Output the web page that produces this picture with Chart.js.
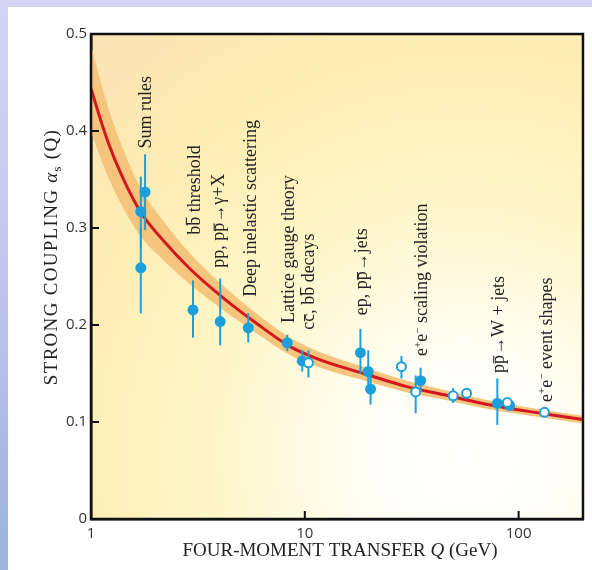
<!DOCTYPE html>
<html><head><meta charset="utf-8">
<script src="https://cdn.jsdelivr.net/npm/chart.js@4.4.1/dist/chart.umd.min.js"></script>
<style>
html,body{margin:0;padding:0;width:592px;height:570px;overflow:hidden}
body{background:linear-gradient(180deg,#d6d4f2 0%,#c4c6ee 45%,#9ab2df 100%);position:relative}
#panel{position:absolute;left:8px;top:7px;right:0;bottom:0;background:#fff}
#c{position:absolute;left:0;top:0}
</style></head><body>
<div id="panel"></div>
<canvas id="c" width="592" height="570"></canvas>
<script>
// ---- data ----
const xTicks = [1, 10, 100];
const yTicks = [0, 0.1, 0.2, 0.3, 0.4, 0.5];

const curveQ    = [1.0, 1.1, 1.2, 1.38, 1.7, 2.2, 2.9, 4.15, 6.0, 8.5, 11.8, 18.8, 30, 45, 74, 127, 200];
const curveMid  = [0.444, 0.414, 0.389, 0.356, 0.317, 0.286, 0.258, 0.228, 0.201, 0.178, 0.164, 0.150, 0.1365, 0.128, 0.1175, 0.109, 0.1025];
const curveLow  = [0.399, 0.374, 0.353, 0.325, 0.292, 0.266, 0.242, 0.2155, 0.191, 0.169, 0.156, 0.143, 0.1305, 0.123, 0.113, 0.105, 0.0985];
const curveHigh = [0.489, 0.454, 0.425, 0.387, 0.342, 0.306, 0.274, 0.2405, 0.211, 0.187, 0.172, 0.157, 0.1425, 0.133, 0.122, 0.113, 0.1065];

const fillQ  = [1.71, 1.71, 1.79, 3.0, 4.02, 5.44, 8.28, 9.73, 18.2, 19.8, 20.3, 34.8, 79.5, 90.8];
const fillA  = [0.317, 0.259, 0.337, 0.2155, 0.2035, 0.197, 0.1815, 0.163, 0.1715, 0.152, 0.134, 0.1426, 0.1193, 0.117];
const fillLo = [0.280, 0.212, 0.298, 0.187, 0.179, 0.182, 0.173, 0.152, 0.150, 0.135, 0.118, 0.131, 0.097, 0.114];
const fillHi = [0.353, 0.300, 0.376, 0.246, 0.248, 0.212, 0.190, 0.174, 0.196, 0.174, 0.152, 0.156, 0.145, 0.120];

const openQ  = [10.4, 28.3, 33.0, 49.4, 57.1, 88.5, 132];
const openA  = [0.161, 0.157, 0.131, 0.127, 0.1296, 0.120, 0.110];
const openLo = [0.146, 0.145, 0.109, 0.1196, 0.127, 0.118, 0.105];
const openHi = [0.174, 0.168, 0.148, 0.135, 0.132, 0.122, 0.1145];

// '~' = overline next char, '^' = superscript next char
const labelText = ["Sum rules", "b~b threshold", "pp, p~p\u2192\u03b3+X", "Deep inelastic scattering",
  "Lattice gauge theory", "c~c, b~b decays", "ep, p~p\u2192jets", "e^+e^\u2212 scaling violation",
  "p~p\u2192W + jets", "e^+e^\u2212 event shapes"];
const labelQ = [1.79, 3.04, 3.93, 5.55, 8.37, 10.4, 18.4, 35.1, 79.8, 134];
const labelA = [0.382, 0.293, 0.259, 0.229, 0.202, 0.195, 0.210, 0.168, 0.1505, 0.1206];

// ---- styling ----
const BLUE = '#1ba0db';
const SERIF = '"Liberation Serif", "Times New Roman", serif';
const TEXT = '#222';

function pts(xs, ys){ return xs.map((x,i)=>({x:x, y:ys[i]})); }

function parseRich(s){
  const segs=[];
  for(let i=0;i<s.length;i++){
    const c=s[i];
    if(c==='^'){ segs.push({t:s[++i], sup:true}); }
    else if(c==='~'){ segs.push({t:s[++i], over:true}); }
    else {
      const last = segs[segs.length-1];
      if(last && !last.sup && !last.over) last.t += c; else segs.push({t:c});
    }
  }
  return segs;
}
function drawRich(ctx, s, x, y, size){
  let cx = x;
  for(const sg of parseRich(s)){
    if(sg.sup){
      ctx.font = (size*0.62)+'px '+SERIF;
      ctx.fillText(sg.t, cx, y - size*0.36);
      cx += ctx.measureText(sg.t).width;
    } else {
      ctx.font = size+'px '+SERIF;
      ctx.fillText(sg.t, cx, y);
      const w = ctx.measureText(sg.t).width;
      if(sg.over){
        const tall = 'bdfhklt'.indexOf(sg.t) >= 0;
        ctx.fillRect(cx + w*0.08, y - size*(tall ? 0.80 : 0.58), w*0.84, Math.max(1, size*0.06));
      }
      cx += w;
    }
  }
}

const bgPlugin = {
  id:'bg',
  beforeDraw(chart){
    const {ctx, chartArea:a} = chart;
    ctx.save();
    const g = ctx.createRadialGradient(465, 455, 0, 465, 455, 575);
    g.addColorStop(0, '#ffffff');
    g.addColorStop(0.18, '#fffef5');
    g.addColorStop(0.45, '#fff6c8');
    g.addColorStop(0.72, '#feedb3');
    g.addColorStop(1, '#fbe1b6');
    ctx.fillStyle = g;
    ctx.fillRect(a.left, a.top, a.right-a.left, a.bottom-a.top);
    ctx.restore();
  }
};

const errPlugin = {
  id:'errbars',
  beforeDatasetDraw(chart, args){
    if(args.index !== 3) return;
    const {ctx} = chart, xs = chart.scales.x, ys = chart.scales.y;
    ctx.save();
    ctx.strokeStyle = BLUE; ctx.lineWidth = 2;
    const draw = (Q, lo, hi) => Q.forEach((q,i)=>{
      const px = xs.getPixelForValue(q);
      ctx.beginPath();
      ctx.moveTo(px, ys.getPixelForValue(lo[i]));
      ctx.lineTo(px, ys.getPixelForValue(hi[i]));
      ctx.stroke();
    });
    draw(fillQ, fillLo, fillHi);
    draw(openQ, openLo, openHi);
    ctx.restore();
  }
};

const decoPlugin = {
  id:'deco',
  afterDatasetsDraw(chart){
    const {ctx, chartArea:a} = chart, xs = chart.scales.x, ys = chart.scales.y;
    ctx.save();
    ctx.fillStyle = TEXT;
    ctx.textBaseline = 'alphabetic';
    ctx.textAlign = 'left';
    labelText.forEach((t,i)=>{
      const px = xs.getPixelForValue(labelQ[i]) + 6;
      const py = ys.getPixelForValue(labelA[i]);
      ctx.save();
      ctx.translate(px, py);
      ctx.rotate(-Math.PI/2);
      drawRich(ctx, t, 0, 0, 18);
      ctx.restore();
    });
    // frame
    ctx.strokeStyle = '#111';
    ctx.lineWidth = 2.5;
    ctx.strokeRect(a.left, a.top, a.right-a.left, a.bottom-a.top);
    // inward ticks
    ctx.lineWidth = 2;
    yTicks.forEach(v=>{
      const py = ys.getPixelForValue(v);
      ctx.beginPath(); ctx.moveTo(a.left, py); ctx.lineTo(a.left+8, py); ctx.stroke();
    });
    xTicks.forEach(v=>{
      const px = xs.getPixelForValue(v);
      ctx.beginPath(); ctx.moveTo(px, a.bottom); ctx.lineTo(px, a.bottom-8); ctx.stroke();
    });
    // axis titles
    ctx.fillStyle = TEXT;
    const fs = 19;
    const p1 = 'FOUR-MOMENT TRANSFER ', pQ = 'Q', p2 = ' (GeV)';
    ctx.font = fs+'px '+SERIF; const w1 = ctx.measureText(p1).width, w3 = ctx.measureText(p2).width;
    ctx.font = 'italic '+fs+'px '+SERIF; const w2 = ctx.measureText(pQ).width;
    let x0 = 340 - (w1+w2+w3)/2, yb = 556;
    ctx.font = fs+'px '+SERIF; ctx.fillText(p1, x0, yb);
    ctx.font = 'italic '+fs+'px '+SERIF; ctx.fillText(pQ, x0+w1, yb);
    ctx.font = fs+'px '+SERIF; ctx.fillText(p2, x0+w1+w2, yb);
    // y title
    ctx.save();
    ctx.translate(57, 257);
    ctx.rotate(-Math.PI/2);
    try { ctx.letterSpacing = '1.3px'; } catch(e) {}
    const q1 = 'STRONG COUPLING ', qa = '\u03b1', qs = 's', q2 = ' (Q)';
    ctx.font = fs+'px '+SERIF; const v1 = ctx.measureText(q1).width, v4 = ctx.measureText(q2).width;
    ctx.font = 'italic '+fs+'px '+SERIF; const v2 = ctx.measureText(qa).width;
    ctx.font = (fs*0.68)+'px '+SERIF; const v3 = ctx.measureText(qs).width;
    let s0 = -(v1+v2+v3+v4)/2;
    ctx.font = fs+'px '+SERIF; ctx.fillText(q1, s0, 0);
    ctx.font = 'italic '+fs+'px '+SERIF; ctx.fillText(qa, s0+v1, 0);
    ctx.font = (fs*0.68)+'px '+SERIF; ctx.fillText(qs, s0+v1+v2, 4);
    ctx.font = fs+'px '+SERIF; ctx.fillText(q2, s0+v1+v2+v3, 0);
    ctx.restore();
    ctx.restore();
  }
};

new Chart(document.getElementById('c'), {
  type: 'line',
  data: {
    datasets: [
      { label:'band low', data: pts(curveQ, curveLow), borderWidth:0, borderColor:'rgba(0,0,0,0)', pointRadius:0, fill:false, cubicInterpolationMode:'monotone', order:6 },
      { label:'band high', data: pts(curveQ, curveHigh), borderWidth:0, borderColor:'rgba(0,0,0,0)', pointRadius:0, fill:'-1', backgroundColor:'#f5c57e', cubicInterpolationMode:'monotone', order:5 },
      { label:'alpha_s', data: pts(curveQ, curveMid), borderColor:'#d5161e', borderWidth:3, pointRadius:0, fill:false, cubicInterpolationMode:'monotone', order:4 },
      { label:'filled', data: pts(fillQ, fillA), showLine:false, pointRadius:5.5, pointBackgroundColor:BLUE, pointBorderColor:BLUE, pointBorderWidth:0, order:2 },
      { label:'open', data: pts(openQ, openA), showLine:false, pointRadius:4.5, pointBackgroundColor:'#ffffff', pointBorderColor:BLUE, pointBorderWidth:2, order:1 }
    ]
  },
  options: {
    responsive:false, devicePixelRatio:1, animation:false, events:[],
    layout:{ padding:{ left:0, top:34, right:9, bottom:0 } },
    plugins:{ legend:{display:false}, tooltip:{enabled:false} },
    scales:{
      x:{
        type:'logarithmic', min:1, max:200,
        afterBuildTicks: s => { s.ticks = xTicks.map(v=>({value:v})); },
        afterFit: s => { s.height = 51; },
        ticks:{ callback: v => String(v), font:{family:'"Open Sans", sans-serif', size:15}, color:'#333', padding:6, maxRotation:0, autoSkip:false },
        grid:{ display:false, drawTicks:false }, border:{ display:true, color:'#111', width:2.5 }
      },
      y:{
        min:0, max:0.5,
        afterBuildTicks: s => { s.ticks = yTicks.map(v=>({value:v})); },
        afterFit: s => { s.width = 91; },
        ticks:{ callback: v => v === 0 ? '0' : v.toFixed(1), font:{family:'"Open Sans", sans-serif', size:15}, color:'#333', padding:4 },
        grid:{ display:false, drawTicks:false }, border:{ display:true, color:'#111', width:2.5 }
      }
    }
  },
  plugins:[bgPlugin, errPlugin, decoPlugin]
});
</script>
</body></html>
